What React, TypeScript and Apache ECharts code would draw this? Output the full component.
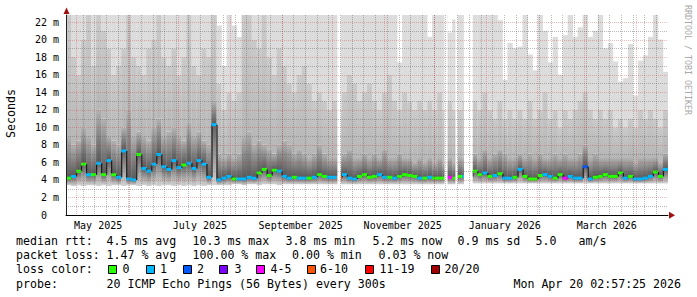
import React, { useEffect, useRef } from 'react';
import * as echarts from 'echarts';

// ---------- time frame (RRD style: start + fixed step) ----------
const START = Date.UTC(2025, 3, 25, 2, 57, 25);
const END = Date.UTC(2026, 3, 20, 2, 57, 25);
const STEP_DAYS = 3;
const DAY = 86400000;

// ---------- series values (ms), one per 3-day step ----------
const medianMs = [
  4.2, 4.4, 5.0, 5.8, 4.6, 4.6, 5.9, 4.6, 6.2, 4.6,
  4.3, 7.3, 4.1, 4.0, 6.9, 5.3, 5.0, 5.8, 6.9, 5.5,
  5.2, 6.2, 5.4, 5.7, 5.9, 5.3, 6.2, 5.8, 4.3, 10.3,
  4.0, 4.2, 4.4, 4.1, 4.1, 4.1, 4.3, 4.2, 4.8, 5.2,
  4.5, 5.1, 5.0, 4.4, 4.2, 4.3, 4.2, 4.2, 4.2, 4.3,
  4.6, 4.4, 4.3, 4.3, 4.3, 4.6, 4.2, 4.1, 4.4, 4.6,
  4.3, 4.4, 4.6, 4.3, 4.3, 4.2, 4.4, 4.6, 4.5, 4.4,
  4.2, 4.2, 4.3, 4.2, 4.2, 4.2, 4.3, 4.2, 4.4, 4.4,
  null, 5.0, 4.6, 4.8, 4.4, 4.5, 4.7, 4.2, 4.2, 4.3,
  5.2, 4.4, 4.1, 4.1, 4.5, 4.6, 4.4, 4.2, 4.6, 4.2,
  4.4, 4.2, 4.2, 5.5, 4.1, 4.3, 4.4, 4.6, 4.4, 4.4,
  4.8, 4.2, 4.4, 4.1, 4.1, 4.2, 4.4, 4.9, 4.4, 5.2,
];
const lossCount = [
  0, 1, 0, 0, 1, 0, 1, 0, 1, 0,
  1, 1, 1, 1, 0, 1, 1, 1, 1, 1,
  1, 1, 1, 0, 1, 1, 1, 1, 1, 1,
  1, 1, 1, 0, 1, 1, 1, 1, 0, 0,
  0, 0, 1, 1, 1, 0, 1, 1, 0, 1,
  0, 0, 1, 1, 8, 1, 1, 1, 0, 0,
  0, 0, 1, 1, 0, 1, 0, 0, 0, 0,
  1, 0, 1, 0, 0, 0, 4, 0, 0, 1,
  null, 0, 0, 1, 0, 1, 0, 1, 1, 0,
  1, 0, 0, 0, 0, 1, 1, 0, 0, 4,
  1, 1, 1, 2, 1, 0, 0, 0, 0, 0,
  0, 1, 0, 1, 1, 1, 1, 0, 0, 1,
];
// smoke: lowest ping, top of dark smoke, top of medium smoke, highest ping
const minMs = [
  3.4, 3.3, 3.4, 3.3, 3.4, 3.4, 3.3, 3.4, 3.3, 3.4,
  3.4, 3.3, 3.4, 3.4, 3.3, 3.4, 3.3, 3.4, 3.3, 3.4,
  3.4, 3.3, 3.4, 3.3, 3.4, 3.3, 3.4, 3.3, 3.4, 3.4,
  3.4, 3.4, 3.4, 3.5, 3.5, 3.4, 3.5, 3.5, 3.4, 3.5,
  3.5, 3.5, 3.4, 3.5, 3.5, 3.5, 3.5, 3.5, 3.5, 3.5,
  3.5, 3.5, 3.5, 3.5, 3.5, 3.5, 3.5, 3.5, 3.5, 3.5,
  3.5, 3.5, 3.5, 3.5, 3.5, 3.5, 3.5, 3.5, 3.5, 3.5,
  3.5, 3.5, 3.5, 3.5, 3.5, 3.5, 3.5, 3.5, 3.5, 3.5,
  null, 3.6, 3.6, 3.6, 3.6, 3.6, 3.6, 3.6, 3.6, 3.6,
  3.6, 3.6, 3.6, 3.6, 3.6, 3.6, 3.6, 3.6, 3.6, 3.6,
  3.6, 3.6, 3.6, 3.6, 3.6, 3.6, 3.6, 3.6, 3.6, 3.6,
  3.6, 3.6, 3.6, 3.6, 3.6, 3.6, 3.6, 3.6, 3.6, 3.6,
];
const lowerMs = [
  9, 8, 8.5, 10, 9, 8, 12, 11, 9, 8.5,
  8, 10, 12, 9, 9.5, 9, 8.5, 10, 11, 9,
  9.5, 10, 9, 8.5, 10.5, 9, 9.5, 8.5, 8, 13,
  7, 6.5, 7, 6.5, 7, 9, 9.5, 8, 8.5, 8,
  7.5, 7, 8, 8.5, 8, 7, 7.5, 7, 6.5, 7,
  8, 7, 6.5, 6.5, 6.5, 7, 7.5, 6.5, 6.5, 7,
  6.5, 7, 6.5, 7.5, 6.5, 6.5, 7, 6.5, 6.5, 6,
  6.5, 6, 6.5, 6, 6.5, 6, 6.5, 6, 6.5, 6.5,
  null, 7, 6.5, 7.5, 6.5, 7, 7.5, 7, 6.5, 6.5,
  7, 6.5, 7, 6.5, 7, 6.5, 6.5, 7, 6.5, 7,
  6.5, 6.5, 7, 8, 6.5, 7, 6.5, 6.5, 6.5, 6.5,
  6.5, 6.5, 6.5, 6, 6.5, 6.5, 6.5, 6.5, 6, 7,
];
const upperMs = [
  22.8, 18, 16, 20, 22.8, 17, 22.8, 21, 19, 16,
  17, 19, 22.8, 18, 17, 16, 19, 20, 22.8, 18,
  17, 19, 16, 18, 22.8, 17, 16, 19, 18, 22.8,
  15, 12, 14, 13, 14, 22.8, 22.8, 20, 19, 22.8,
  18, 16, 19, 17, 15, 14, 16, 17, 15, 13,
  14, 13, 12, 13, 12, 14, 16, 15, 13, 14,
  15, 13, 12, 14, 16, 13, 12, 14, 13, 12,
  13, 12, 13, 12, 14, 12, 13, 12, 12, 13,
  null, 13, 12, 14, 12, 11, 13, 11, 12, 11,
  12, 11, 13, 11, 12, 14, 11, 12, 10, 12,
  11, 12, 13, 14, 12, 11, 12, 11, 12, 10,
  11, 10, 11, 10, 12, 11, 12, 11, 10, 12,
];
const topMs = [
  22.8, 22.8, 22.8, 22.8, 22.8, 22.8, 22.8, 22.8, 22.8, 22.8,
  22.8, 22.8, 22.8, 22.8, 22.8, 22.8, 22.8, 22.8, 22.8, 22.8,
  22.8, 22.8, 22.8, 22.8, 22.8, 22.8, 22.8, 22.8, 22.8, 22.8,
  21.6, 17.0, 22.8, 21.6, 20.3, 22.8, 22.8, 22.8, 22.8, 22.8,
  22.8, 22.8, 22.8, 22.8, 22.8, 22.8, 22.8, 22.8, 22.8, 22.8,
  22.8, 22.8, 22.8, 22.8, 22.8, 22.8, 22.8, 22.8, 22.8, 22.8,
  22.8, 22.8, 22.8, 22.8, 22.8, 22.8, 17.4, 22.8, 22.8, 22.8,
  22.8, 22.8, 20.3, 22.8, 22.8, 22.8, 20.8, 22.3, 22.8, 22.8,
  null, 22.8, 22.8, 22.8, 22.8, 22.8, 22.2, 15.4, 19.6, 19.0,
  19.2, 22.8, 18.3, 16.5, 22.8, 21.0, 17.4, 20.3, 16.0, 20.5,
  22.8, 20.3, 21.4, 22.8, 20.3, 21.0, 22.8, 19.0, 19.6, 17.5,
  15.2, 15.6, 19.5, 13.6, 17.6, 18.2, 20.3, 22.8, 20.0, 16.3,
];
// periods with no data
const gaps = [
  ['2025-10-04T10:00:00Z', '2025-10-06T12:00:00Z'],
  ['2025-12-07T11:00:00Z', '2025-12-09T06:00:00Z'],
  ['2025-12-14T00:00:00Z', '2025-12-15T08:00:00Z'],
  ['2025-12-19T02:00:00Z', '2025-12-24T07:00:00Z'],
];

// ---------- ticks / labels ----------
const monthStarts = [
  '2025-05-01', '2025-06-01', '2025-07-01', '2025-08-01', '2025-09-01', '2025-10-01',
  '2025-11-01', '2025-12-01', '2026-01-01', '2026-02-01', '2026-03-01', '2026-04-01',
];
const firstMonday = '2025-05-05';
const xLabelAt = [
  '2025-05-14T08:00:00Z', '2025-07-14T05:00:00Z', '2025-09-12T12:00:00Z',
  '2025-11-12T12:00:00Z', '2026-01-12T12:00:00Z', '2026-03-14T12:00:00Z',
];
const xLabelTexts = ['May 2025', 'July 2025', 'September 2025', 'November 2025', 'January 2026', 'March 2026'];
const yMinorTicks = [1, 3, 5, 7, 9, 11, 13, 15, 17, 19, 21];
const yMajorTicks = [2, 4, 6, 8, 10, 12, 14, 16, 18, 20, 22];

// ---------- legend texts ----------
const rttStats = ['4.5 ms avg', '10.3 ms max', '3.8 ms min', '5.2 ms now', '0.9 ms sd', '5.0', 'am/s'];
const lossStats = ['1.47 % avg', '100.00 % max', '0.00 % min', '0.03 % now'];
const lossLabels = ['0', '1', '2', '3', '4-5', '6-10', '11-19', '20/20'];
const lossColors = ['#26ff00', '#00b8ff', '#0059ff', '#7e00ff', '#ff00ff', '#ff5500', '#ff0000', '#a10000'];
const probeText = '20 ICMP Echo Pings (56 Bytes) every 300s';
const stampText = 'Mon Apr 20 02:57:25 2026';

// ---------- layout ----------
const FONT = '"DejaVu Sans Mono", monospace';
const rttX = [106.5, 192.5, 285.5, 372.5, 457.5, 535.5, 578.5];
const lossX = [106.5, 192.5, 292, 378.5];
const boxX = [108.3, 145.7, 182.7, 219.3, 255.7, 306.7, 365, 430.7];
const boxLabelX = [122.5, 160, 197, 234.5, 270.5, 320, 379.5, 444.5];
const rowY = [241, 255.3, 269.3, 283.7];

function lossBucket(n: number) {
  if (n <= 3) return n;
  if (n <= 5) return 4;
  if (n <= 10) return 5;
  if (n < 20) return 6;
  return 7;
}
const utc = (s: string) => Date.parse(s.length === 10 ? s + 'T00:00:00Z' : s);

function grad(bottom: string, top: string) {
  return new echarts.graphic.LinearGradient(0, 1, 0, 0, [
    { offset: 0, color: bottom },
    { offset: 1, color: top },
  ]);
}

export default function App() {
  const ref = useRef<HTMLDivElement>(null);
  useEffect(() => {
    if (!ref.current) return;
    const chart = echarts.init(ref.current, undefined, { renderer: 'svg' });

    const smokeData: number[][] = [];
    const medData: number[][] = [];
    let prev: number | null = null;
    medianMs.forEach((m, i) => {
      if (m == null) return;
      const t0 = START + i * STEP_DAYS * DAY;
      const t1 = t0 + STEP_DAYS * DAY;
      smokeData.push([t0, t1, minMs[i] as number, m, lowerMs[i] as number, upperMs[i] as number, topMs[i] as number]);
      medData.push([t0, t1, m, lossBucket(lossCount[i] as number), prev == null ? m : prev]);
      prev = m;
    });
    const gapData = gaps.map((g) => [utc(g[0]), utc(g[1])]);

    const vGrid: number[][] = [];
    for (let t = utc(firstMonday); t < END; t += 7 * DAY) vGrid.push([t, 0, 0]);
    monthStarts.forEach((s) => vGrid.push([utc(s), 0, 1]));
    const hGrid: number[][] = [];
    yMinorTicks.forEach((v) => hGrid.push([START, v, 0]));
    yMajorTicks.forEach((v) => hGrid.push([START, v, 1]));
    const labelData = xLabelAt.map((s, i) => [utc(s), 0, i]);

    const minorColor = 'rgba(90,90,90,0.42)';
    const majorColor = 'rgba(215,50,50,0.33)';

    const graphic: any[] = [];
    const txt = (x: number, y: number, text: string, extra: any = {}) =>
      graphic.push({
        type: 'text', x, y, silent: true,
        style: { text, fontFamily: FONT, fontSize: 11.6, fill: '#000', verticalAlign: 'middle', align: 'left', ...extra },
      });
    txt(16, rowY[0], 'median rtt:');
    rttStats.forEach((s, i) => txt(rttX[i], rowY[0], s));
    txt(16, rowY[1], 'packet loss:');
    lossStats.forEach((s, i) => txt(lossX[i], rowY[1], s));
    txt(16, rowY[2], 'loss color:');
    lossLabels.forEach((s, i) => {
      graphic.push({
        type: 'rect', silent: true,
        shape: { x: Math.round(boxX[i]) + 0.5, y: 265.5, width: 8, height: 8 },
        style: { fill: lossColors[i], stroke: '#000', lineWidth: 1 },
      });
      txt(boxLabelX[i], rowY[2], s);
    });
    txt(16, rowY[3], 'probe:');
    txt(106.5, rowY[3], probeText);
    txt(681, rowY[3], stampText, { align: 'right' });
    graphic.push({
      type: 'text', x: 11, y: 113.5, rotation: Math.PI / 2, silent: true,
      style: { text: 'Seconds', fontFamily: FONT, fontSize: 11.6, fill: '#000', align: 'center', verticalAlign: 'middle' },
    });
    graphic.push({
      type: 'text', x: 688, y: 60, rotation: -Math.PI / 2, silent: true,
      style: { text: 'RRDTOOL / TOBI OETIKER', fontFamily: FONT, fontSize: 8.3, fill: '#a8a8a8', align: 'center', verticalAlign: 'middle' },
    });
    graphic.push({
      type: 'polygon', silent: true, z: 100,
      shape: { points: [[63.5, 14], [69.5, 14], [66.5, 7.5]] },
      style: { fill: '#a01010' },
    });
    graphic.push({
      type: 'polygon', silent: true, z: 100,
      shape: { points: [[669, 211.8], [669, 218.8], [675, 215.3]] },
      style: { fill: '#a01010' },
    });

    chart.setOption({
      animation: false,
      backgroundColor: '#fff',
      grid: { left: 66, right: 29, top: 15, bottom: 82 },
      xAxis: {
        type: 'time', min: START, max: END, z: 10,
        axisLine: { show: true, lineStyle: { color: '#000', width: 1 } },
        axisTick: { show: false },
        splitLine: { show: false },
        axisLabel: { show: false },
      },
      yAxis: {
        type: 'value', min: 0, max: 22.8, interval: 2, z: 10,
        axisLine: { show: true, lineStyle: { color: '#222', width: 1 } },
        axisTick: { show: false },
        splitLine: { show: false },
        axisLabel: {
          showMaxLabel: false,
          formatter: (v: number) => (v === 0 ? '0\u00a0\u00a0' : v + ' m'),
          fontFamily: FONT, fontSize: 10, color: '#000', margin: 7,
        },
      },
      graphic,
      series: [
        {
          type: 'custom', z: 2, clip: true, silent: true,
          data: smokeData,
          encode: { x: [0, 1], y: [2, 3, 4, 5, 6] },
          renderItem: (params: any, api: any) => {
            const t0 = api.value(0);
            const xa = api.coord([t0, 0])[0];
            const xb = api.coord([api.value(1), 0])[0];
            const Y = (v: number) => api.coord([t0, v])[1];
            const w = xb - xa + 0.3;
            const band = (v0: number, v1: number, fill: any) => ({
              type: 'rect',
              shape: { x: xa, y: Y(v1), width: w, height: Y(v0) - Y(v1) },
              style: { fill },
            });
            const mn = api.value(2), md = api.value(3), lo = api.value(4), up = api.value(5), tp = api.value(6);
            return {
              type: 'group',
              children: [
                band(up, tp, '#dcdcdc'),
                band(lo, up, grad('#b6b6b6', '#cacaca')),
                band(md, lo, grad('#575757', '#b2b2b2')),
                band(mn, md, grad('#d2d2d2', '#636363')),
              ],
            };
          },
        },
        {
          type: 'custom', z: 3, clip: true, silent: true,
          data: medData,
          encode: { x: [0, 1], y: 2 },
          renderItem: (params: any, api: any) => {
            const t0 = api.value(0);
            const xa = api.coord([t0, 0])[0];
            const xb = api.coord([api.value(1), 0])[0];
            const y = api.coord([t0, api.value(2)])[1];
            const yp = api.coord([t0, api.value(4)])[1];
            return {
              type: 'group',
              children: [
                { type: 'line', shape: { x1: xa + 0.5, y1: yp, x2: xa + 0.5, y2: y }, style: { stroke: '#1a1a1a', lineWidth: 1.2 } },
                { type: 'rect', shape: { x: xa, y: y - 1.5, width: xb - xa + 0.3, height: 3 }, style: { fill: lossColors[api.value(3)] } },
              ],
            };
          },
        },
        {
          type: 'custom', z: 4, clip: true, silent: true,
          data: gapData,
          encode: { x: [0, 1] },
          renderItem: (params: any, api: any) => {
            const cs = params.coordSys;
            const xa = api.coord([api.value(0), 0])[0];
            const xb = api.coord([api.value(1), 0])[0];
            return { type: 'rect', shape: { x: xa, y: cs.y, width: xb - xa, height: cs.height - 1 }, style: { fill: '#fff' } };
          },
        },
        {
          type: 'custom', z: 5, clip: true, silent: true,
          data: vGrid,
          encode: { x: 0, y: 1 },
          renderItem: (params: any, api: any) => {
            const cs = params.coordSys;
            const x = Math.round(api.coord([api.value(0), 0])[0]) + 0.5;
            const major = api.value(2) === 1;
            return {
              type: 'line',
              shape: { x1: x, y1: cs.y, x2: x, y2: cs.y + cs.height },
              style: { stroke: major ? majorColor : minorColor, lineWidth: 1, lineDash: [1, 1] },
            };
          },
        },
        {
          type: 'custom', z: 5, clip: true, silent: true,
          data: hGrid,
          encode: { x: 0, y: 1 },
          renderItem: (params: any, api: any) => {
            const cs = params.coordSys;
            const y = Math.round(api.coord([api.value(0), api.value(1)])[1]) + 0.5;
            const major = api.value(2) === 1;
            return {
              type: 'line',
              shape: { x1: cs.x, y1: y, x2: cs.x + cs.width, y2: y },
              style: { stroke: major ? majorColor : minorColor, lineWidth: 1, lineDash: [1, 1] },
            };
          },
        },
        {
          type: 'custom', z: 6, clip: false, silent: true,
          data: labelData,
          encode: { x: 0, y: 1 },
          renderItem: (params: any, api: any) => {
            const cs = params.coordSys;
            const x = api.coord([api.value(0), 0])[0];
            return {
              type: 'text',
              x, y: cs.y + cs.height + 10,
              style: {
                text: xLabelTexts[api.value(2)], fontFamily: FONT, fontSize: 10, fill: '#000',
                align: 'center', verticalAlign: 'middle',
              },
            };
          },
        },
      ],
    });
    return () => chart.dispose();
  }, []);
  return (
    <div
      ref={ref}
      style={{ position: 'fixed', left: 0, top: 0, width: 697, height: 297, background: '#fff' }}
    />
  );
}
